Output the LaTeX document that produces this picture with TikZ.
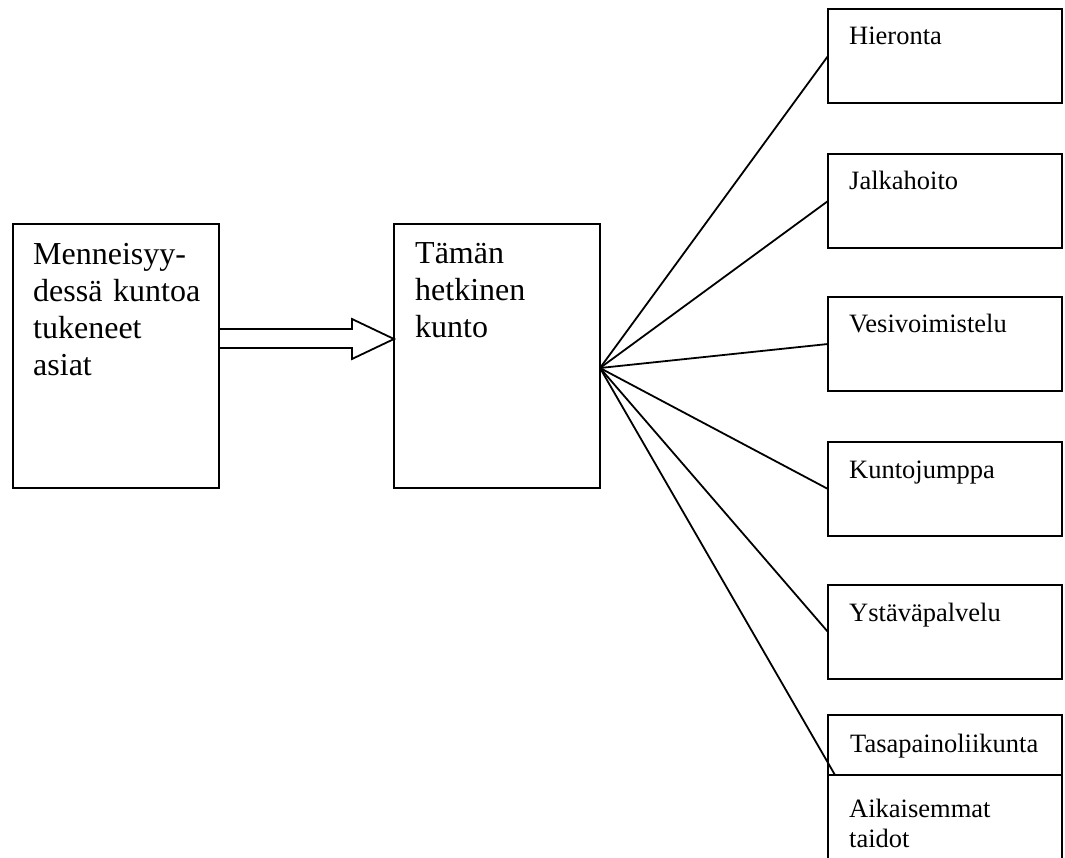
\documentclass[tikz,border=0pt]{standalone}
\usepackage{fontspec}
\setmainfont{Liberation Serif}
\newcommand{\bigtxt}{\fontsize{32}{36.7}\selectfont}
\newcommand{\smalltxt}{\fontsize{26.5}{30.5}\selectfont}
\begin{document}
\begin{tikzpicture}[x=1pt,y=-1pt,
  box/.style={draw,line width=1.9pt,inner sep=0pt,outer sep=0pt,anchor=north west},
  bigbox/.style={box,minimum width=206pt,minimum height=264pt},
  rbox/.style={box,minimum width=234pt,minimum height=94pt},
  bigtext/.style={anchor=base west,inner sep=0pt,text width=190pt,align=left,font=\bigtxt},
  smalltext/.style={anchor=base west,inner sep=0pt,text width=210pt,align=left,font=\smalltxt},
  conn/.style={line width=1.8pt}]
\clip (0,0) rectangle (1065,858);
\fill[white] (0,0) rectangle (1065,858);
% main boxes
\node[bigbox] (L) at (13,224) {};
\node[bigbox] (M) at (394,224) {};
\node[bigtext] (Lt) at (33,265) {Menneisyy-\\dessä kuntoa\\tukeneet\\asiat};
\node[bigtext] (Mt) at (415,264) {Tämän\\hetkinen\\kunto};
% right boxes
\node[rbox] (R1) at (828,9) {};
\node[rbox] (R2) at (828,154) {};
\node[rbox] (R3) at (828,297) {};
\node[rbox] (R4) at (828,442) {};
\node[rbox] (R5) at (828,585) {};
\node[box,minimum width=234pt,minimum height=60pt] (T) at (828,715) {};
\node[box,minimum width=234pt,minimum height=110pt] (A) at (828,775) {};
\node[smalltext] (R1t) at (849,45) {Hieronta};
\node[smalltext] (R2t) at (849,190) {Jalkahoito};
\node[smalltext] (R3t) at (849,333) {Vesivoimistelu};
\node[smalltext] (R4t) at (849,478) {Kuntojumppa};
\node[smalltext] (R5t) at (849,621) {Ystäväpalvelu};
\node[smalltext] (Tt) at (850,752) {Tasapainoliikunta};
\node[smalltext] (At) at (849,817) {Aikaisemmat\\taidot};
% hollow arrow
\draw[conn,line join=miter] (L.east |- 0,329) -- (352,329) -- (352,319) -- (M.west |- 0,339)
  -- (352,359) -- (352,348) -- (L.east |- 0,348);
% fan connectors
\coordinate (fan) at (600,368);
\coordinate (tend) at (835,775);
\draw[conn] (fan) -- (R1.west);
\draw[conn] (fan) -- (R2.west);
\draw[conn] (fan) -- (R3.west);
\draw[conn] (fan) -- (R4.west);
\draw[conn] (fan) -- (R5.west);
\draw[conn] (fan) -- (tend);
\end{tikzpicture}
\end{document}
